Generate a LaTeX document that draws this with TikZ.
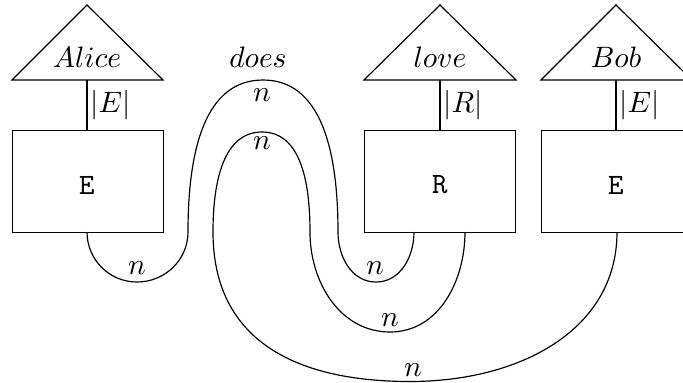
\documentclass[tikz,border=0pt]{standalone}
\begin{document}
\begin{tikzpicture}[x=0.0119cm,y=-0.0119cm,
  wire/.style={line width=0.4pt},
  box/.style={draw,minimum width=151*0.0119cm,minimum height=102*0.0119cm,inner sep=0pt,anchor=north west},
  lbl/.style={inner sep=0pt}]
\useasboundingbox (0,0) rectangle (683,382);
% triangles
\coordinate (a1) at (87,5); \coordinate (a2) at (12,80); \coordinate (a3) at (163,80);
\coordinate (l1) at (440,5); \coordinate (l2) at (364,80); \coordinate (l3) at (516,80);
\coordinate (b1) at (616,5); \coordinate (b2) at (541,80); \coordinate (b3) at (692,80);
\draw (a2) -- (a1) -- (a3) -- cycle;
\draw (l2) -- (l1) -- (l3) -- cycle;
\draw (b2) -- (b1) -- (b3) -- cycle;
\node[lbl] (alice) at (87,57) {$Alice$};
\node[lbl] (love) at (440,57) {$love$};
\node[lbl] (bob) at (616,57) {$Bob$};
\node[lbl] (does) at (258,57) {$does$};
% boxes
\node[box] (E1) at (12,130) {};
\node[box] (R) at (364,130) {};
\node[box] (E2) at (541,130) {};
\node[lbl] at (87,185) {\texttt{E}};
\node[lbl] at (440,185) {\texttt{R}};
\node[lbl] at (616,185) {\texttt{E}};
% stems
\coordinate (ta) at (87,80); \coordinate (tl) at (440,80); \coordinate (tb) at (616,80);
\draw (ta) -- (E1.north -| ta) node[midway,right,inner sep=1pt] {$|E|$};
\draw (tl) -- (R.north -| tl) node[midway,right,inner sep=1pt] {$|R|$};
\draw (tb) -- (E2.north -| tb) node[midway,right,inner sep=1pt] {$|E|$};
% wire endpoints
\coordinate (e1o) at (87,232);
\coordinate (r1) at (414,232);
\coordinate (r2) at (465,232);
\coordinate (e2o) at (617,232);
% outer snake wire
\draw[wire] (e1o) to[out=-90,in=180] (137,282) to[out=0,in=-90] (188,232)
  .. controls (188,150) and (205,80) .. (263,80)
  .. controls (321,80) and (338,150) .. (338,232)
  to[out=-90,in=180] (376,282) to[out=0,in=-90] (r1);
% inner wire
\draw[wire] (r2) to[out=-90,in=0] (390,332) to[out=180,in=-90] (310,232)
  .. controls (310,180) and (300,132) .. (262,132)
  .. controls (224,132) and (213,180) .. (213,232)
  .. controls (213,340) and (295,381.5) .. (410,381.5)
  .. controls (520,381.5) and (617,330) .. (e2o);
% wire labels
\node[lbl] at (137,268) {$n$};
\node[lbl] at (262,95) {$n$};
\node[lbl] at (262,143) {$n$};
\node[lbl] at (375,268) {$n$};
\node[lbl] at (390,320) {$n$};
\node[lbl] at (413,370) {$n$};
\end{tikzpicture}
\end{document}
